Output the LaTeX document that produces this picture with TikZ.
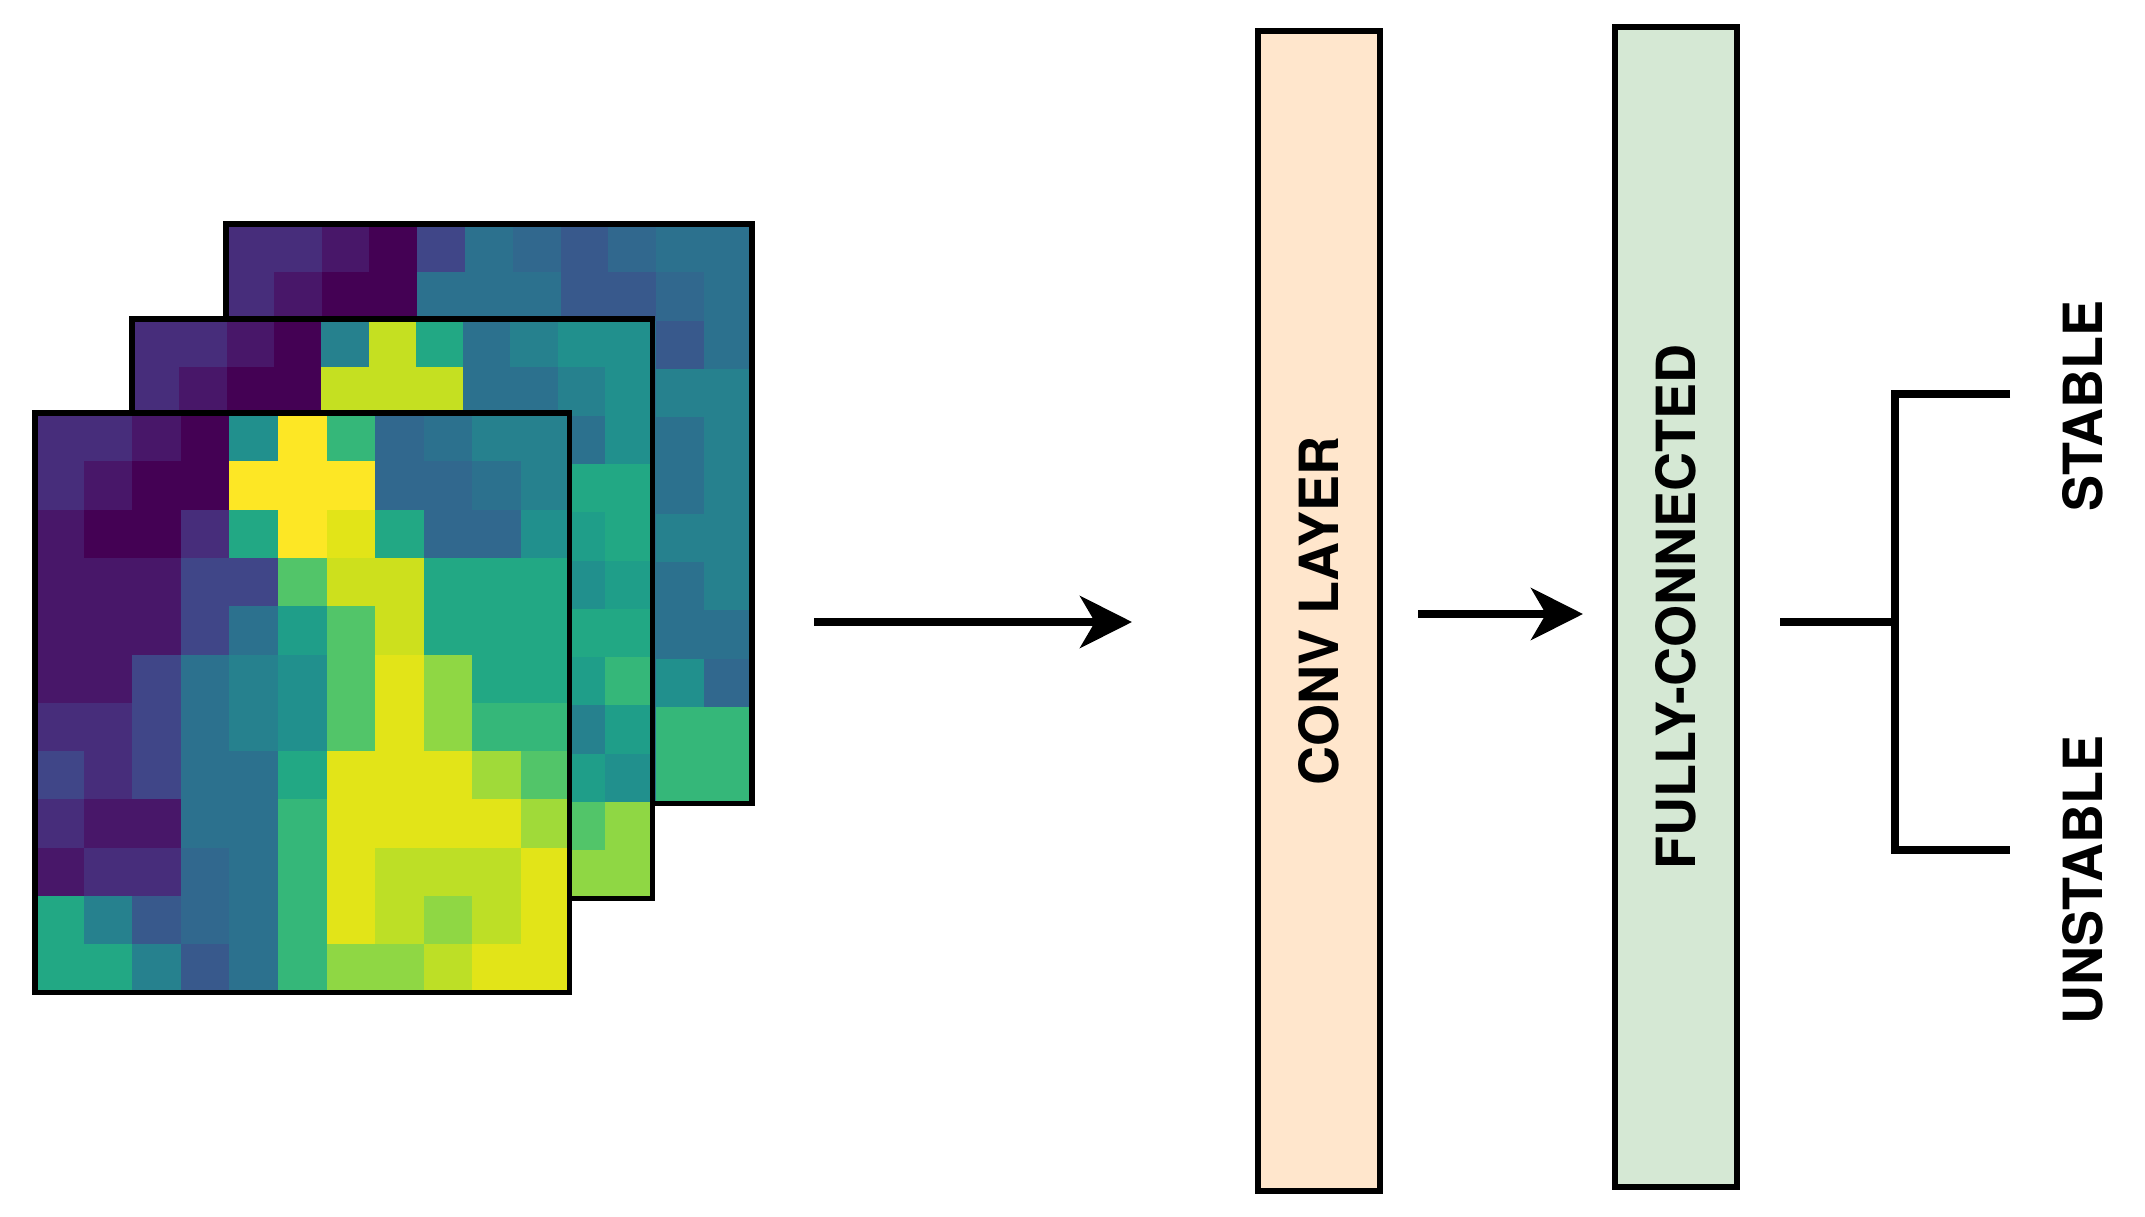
\documentclass[tikz,border=0pt]{standalone}
\usepackage{fontspec}
\setmainfont{TeX Gyre Heros}
\usetikzlibrary{arrows.meta}
\definecolor{Pa}{HTML}{440154}
\definecolor{Pb}{HTML}{481769}
\definecolor{Pc}{HTML}{472D7B}
\definecolor{Pd}{HTML}{404688}
\definecolor{Pe}{HTML}{38598C}
\definecolor{Bf}{HTML}{31688E}
\definecolor{Bg}{HTML}{2C718E}
\definecolor{Th}{HTML}{26818E}
\definecolor{Ti}{HTML}{21908D}
\definecolor{Tj}{HTML}{1F9E89}
\definecolor{Gk}{HTML}{22A884}
\definecolor{Gl}{HTML}{35B779}
\definecolor{Gm}{HTML}{52C569}
\definecolor{Gn}{HTML}{8FD744}
\definecolor{Go}{HTML}{A0DA39}
\definecolor{Yp}{HTML}{BDDF26}
\definecolor{Yq}{HTML}{CDE01D}
\definecolor{Yr}{HTML}{E2E418}
\definecolor{Ys}{HTML}{FDE725}
\definecolor{Ym}{HTML}{C5E021}
\definecolor{convfill}{HTML}{FFE6CC}
\definecolor{fcfill}{HTML}{D5E8D4}
\tikzset{
  frame/.style={draw=black,line width=5.5pt},
  layer/.style={draw=black,line width=5.5pt,minimum width=122pt,minimum height=1160pt,inner sep=0pt},
  lbl/.style={font=\fontsize{54}{60}\selectfont\bfseries,rotate=90},
  arr/.style={line width=7.5pt,-{Stealth[length=52pt,width=52pt,inset=15pt]}},
  wire/.style={line width=7.5pt},
}
% #1 x0, #2 y0, #3 cell width, #4 rows
\newcommand{\heat}[4]{%
  \foreach \row [count=\r] in {#4}{%
    \foreach \c [count=\k] in \row{%
      \fill[\c] ({#1+(\k-1)*#3},{#2+(\r-1)*48.3}) rectangle ++({#3+0.5},48.8);
    }
  }
  \draw[frame] (#1,#2) rectangle ++({11*#3},579.6);
}
\begin{document}
\begin{tikzpicture}[x=1pt,y=-1pt]
\useasboundingbox (0,0) rectangle (2145,1217);
% back grid
\heat{226}{224}{47.8}{
 {Pc,Pc,Pb,Pa,Pd,Bg,Bf,Pe,Bf,Bg,Bg},
 {Pc,Pb,Pa,Pa,Bg,Bg,Bg,Pe,Pe,Bf,Bg},
 {Bg,Bg,Bg,Bg,Bg,Bg,Bg,Bg,Bg,Pe,Bg},
 {Bg,Bg,Bg,Bg,Bg,Bg,Bg,Bg,Bg,Th,Th},
 {Bg,Bg,Bg,Bg,Bg,Bg,Bg,Bg,Bg,Bg,Th},
 {Bg,Bg,Bg,Bg,Bg,Bg,Bg,Bg,Bg,Bg,Th},
 {Bg,Bg,Bg,Bg,Bg,Bg,Bg,Bg,Bg,Th,Th},
 {Bg,Bg,Bg,Bg,Bg,Bg,Bg,Bg,Bg,Bg,Th},
 {Bg,Bg,Bg,Bg,Bg,Bg,Bg,Bg,Bg,Bg,Bg},
 {Bg,Bg,Bg,Bg,Bg,Bg,Bg,Bg,Bg,Ti,Bf},
 {Bg,Bg,Bg,Bg,Bg,Bg,Bg,Bg,Bg,Gl,Gl},
 {Bg,Bg,Bg,Bg,Bg,Bg,Bg,Bg,Bg,Gl,Gl}}
% middle grid
\heat{132}{319}{47.3}{
 {Pc,Pc,Pb,Pa,Th,Ym,Gk,Bg,Th,Ti,Ti},
 {Pc,Pb,Pa,Pa,Ym,Ym,Ym,Bg,Bg,Th,Ti},
 {Bg,Bg,Bg,Bg,Bg,Bg,Bg,Bg,Bg,Bg,Ti},
 {Bg,Bg,Bg,Bg,Bg,Bg,Bg,Bg,Bg,Gk,Gk},
 {Bg,Bg,Bg,Bg,Bg,Bg,Bg,Bg,Bg,Tj,Gk},
 {Bg,Bg,Bg,Bg,Bg,Bg,Bg,Bg,Bg,Ti,Tj},
 {Bg,Bg,Bg,Bg,Bg,Bg,Bg,Bg,Bg,Gk,Gk},
 {Bg,Bg,Bg,Bg,Bg,Bg,Bg,Bg,Bg,Tj,Gl},
 {Bg,Bg,Bg,Bg,Bg,Bg,Bg,Bg,Bg,Th,Tj},
 {Bg,Bg,Bg,Bg,Bg,Bg,Bg,Bg,Bg,Tj,Ti},
 {Bg,Bg,Bg,Bg,Bg,Bg,Bg,Bg,Bg,Gm,Gn},
 {Bg,Bg,Bg,Bg,Bg,Bg,Bg,Bg,Bg,Gn,Gn}}
% front grid
\heat{35}{413}{48.6}{
 {Pc,Pc,Pb,Pa,Ti,Ys,Gl,Bf,Bg,Th,Th},
 {Pc,Pb,Pa,Pa,Ys,Ys,Ys,Bf,Bf,Bg,Th},
 {Pb,Pa,Pa,Pc,Gk,Ys,Yr,Gk,Bf,Bf,Ti},
 {Pb,Pb,Pb,Pd,Pd,Gm,Yq,Yq,Gk,Gk,Gk},
 {Pb,Pb,Pb,Pd,Bg,Tj,Gm,Yq,Gk,Gk,Gk},
 {Pb,Pb,Pd,Bg,Th,Ti,Gm,Yr,Gn,Gk,Gk},
 {Pc,Pc,Pd,Bg,Th,Ti,Gm,Yr,Gn,Gl,Gl},
 {Pd,Pc,Pd,Bg,Bg,Gk,Yr,Yr,Yr,Go,Gm},
 {Pc,Pb,Pb,Bg,Bg,Gl,Yr,Yr,Yr,Yr,Go},
 {Pb,Pc,Pc,Bf,Bg,Gl,Yr,Yp,Yp,Yp,Yr},
 {Gk,Th,Pe,Bf,Bg,Gl,Yr,Yp,Gn,Yp,Yr},
 {Gk,Gk,Th,Pe,Bg,Gl,Gn,Gn,Yp,Yr,Yr}}
% layers
\node[layer,fill=convfill] (conv) at (1319,611) {};
\node[layer,fill=fcfill] (fc) at (1676,607) {};
\node[lbl] at (conv.center) {CONV LAYER};
\node[lbl] at (fc.center) {FULLY-CONNECTED};
\coordinate (in) at (814,622);
\coordinate (convin) at (1132,622);
\draw[arr] (in) -- (convin);
\coordinate (a2s) at (1418,614);
\coordinate (a2e) at (1583,614);
\draw[arr] (a2s) -- (a2e);
% output bracket
\coordinate (o1) at (1780,622);
\coordinate (br) at (1895,622);
\coordinate (bt) at (1895,394);
\coordinate (bb) at (1895,850);
\coordinate (st) at (2010,394);
\coordinate (ub) at (2010,850);
\draw[wire] (o1) -- (br);
\draw[wire,line join=miter] (st) -- (bt) -- (bb) -- (ub);
\node[lbl] (stable) at (2083,406) {STABLE};
\node[lbl] (unstable) at (2083,880) {UNSTABLE};
\end{tikzpicture}
\end{document}
